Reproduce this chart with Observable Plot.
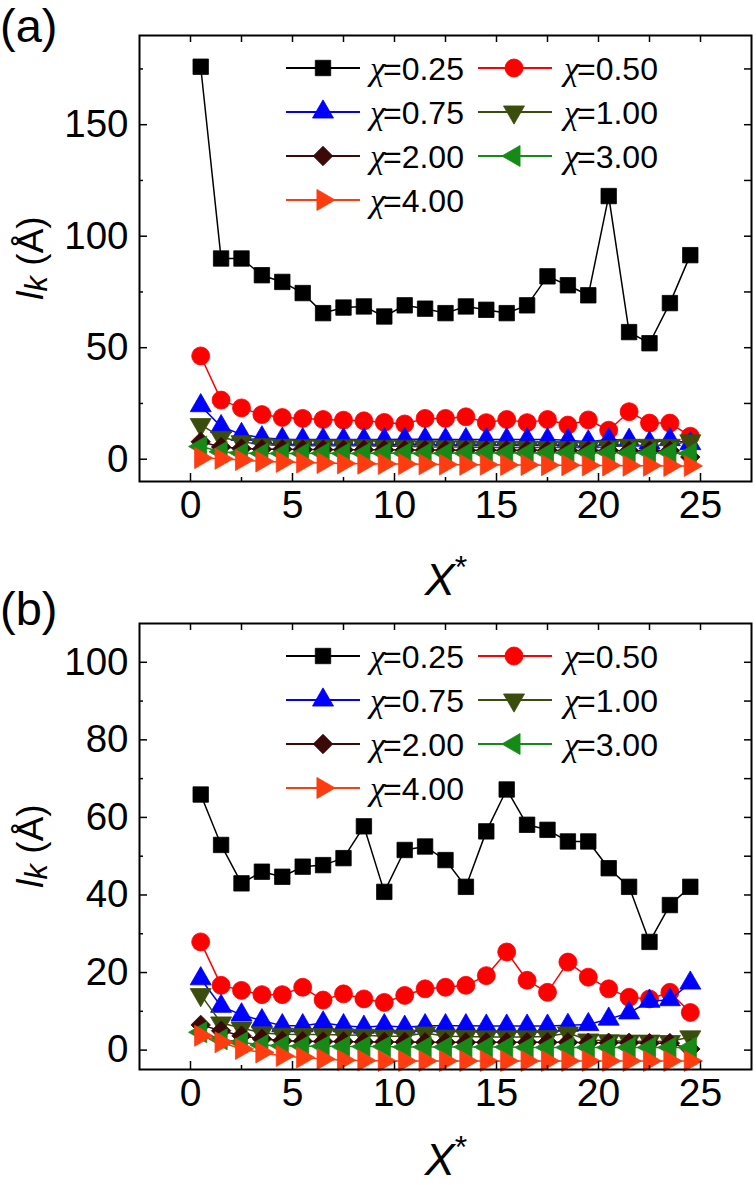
<!DOCTYPE html>
<html><head><meta charset="utf-8">
<script src="https://cdn.jsdelivr.net/npm/d3@7"></script>
<script src="https://cdn.jsdelivr.net/npm/@observablehq/plot@0.6"></script>
<style>
body{margin:0;background:#fff;width:756px;height:1185px;position:relative;overflow:hidden;font-family:"Liberation Sans",Arial,sans-serif;color:#000;}
.panel{position:absolute;left:0;}
.plabel{position:absolute;left:0;font-size:47px;line-height:47px;white-space:nowrap;}
.ylab{position:absolute;left:33px;font-size:37px;line-height:37px;white-space:nowrap;transform:translate(-50%,-50%) rotate(-90deg);}
.xlab{position:absolute;left:446px;font-size:45px;line-height:38px;white-space:nowrap;transform:translateX(-50%);}
</style></head><body>
<div id="pa" class="panel" style="top:0"></div>
<div id="pb" class="panel" style="top:588px"></div>
<div class="plabel" style="top:2px">(a)</div>
<div class="plabel" style="top:585px">(b)</div>
<div class="ylab" style="top:258px"><i>l</i><sub style="font-size:31px;vertical-align:-4px"><i>k</i></sub> (Å)</div>
<div class="ylab" style="top:846px"><i>l</i><sub style="font-size:31px;vertical-align:-4px"><i>k</i></sub> (Å)</div>
<div class="xlab" style="top:561px"><i>X</i><span style="font-size:32px;position:relative;top:-17px">*</span></div>
<div class="xlab" style="top:1141px"><i>X</i><span style="font-size:32px;position:relative;top:-17px">*</span></div>
<script>
// ---------- data ----------
const xStar = [0.5,1.5,2.5,3.5,4.5,5.5,6.5,7.5,8.5,9.5,10.5,11.5,12.5,13.5,14.5,15.5,16.5,17.5,18.5,19.5,20.5,21.5,22.5,23.5,24.5];
const chiLabels = ["0.25","0.50","0.75","1.00","2.00","3.00","4.00"];
const colors = ["#000000","#ff0000","#0000ff","#3b4d0c","#3c0909","#168a16","#ff3c0f"];
const symbols = ["square","circle","triangle","triangle","diamond2","triangle","triangle"];
const rotations = [0,0,0,180,0,-90,90];
const radii = [8.7,9,7.8,7.8,8.8,7.8,7.8];

// panel (a)
const a025 = [176,90,90,82.5,79.5,74.5,65.5,68,68.5,64,69,67.5,65.5,68.5,67,65.5,69,82,78,73.5,118,57,52,70,91.5];
const a050 = [46.3,26.5,23,20,18.7,18.3,17.8,17.5,17.2,16.5,15.8,18.3,18.3,19,16.4,17.8,16.4,17.8,15.3,17.6,13,21.3,16.2,16.2,10.3];
const a075 = [24,14.6,11.1,9.6,9,8.8,8.8,8.8,8.8,8.8,9,9,8.8,8.8,8.8,8.8,8.8,8.8,8.5,7.8,8.8,8.5,7.3,8.8,7];
const a100 = [15.5,9.8,7.8,6.5,6.2,6,6,6,6,5.8,5.8,5.5,5.5,5.5,5.3,5.3,5.3,5.2,5.2,5.2,5.5,6.2,6.2,6.2,8.2];
const a200 = [7.8,5.5,4.8,4.5,4.5,4.3,4.3,4.2,4.2,4.2,4.1,4.1,4.1,4,4,4,4,4,3.9,3.9,3.9,3.8,3.8,3.8,1];
const a300 = [5.7,3.3,2.8,2.6,2.6,2.6,2.7,2.6,2.6,2.7,2.7,2.6,2.7,2.7,2.8,2.8,2.8,2.8,2.9,2.9,2.9,2.9,2.9,2.9,2.6];
const a400 = [0.5,0.2,-0.4,-1,-1.2,-1.5,-1.7,-1.9,-2,-2.1,-2.2,-2.3,-2.4,-2.5,-2.5,-2.6,-2.6,-2.7,-2.7,-2.8,-2.8,-2.9,-2.9,-3,-3];

// panel (b)
const b025 = [65.9,52.9,43,46,44.7,47.3,47.7,49.5,57.7,40.8,51.6,52.5,49,42.1,56.4,67.2,58.1,56.8,53.8,53.8,46.9,42.1,27.9,37.4,42.1];
const b050 = [27.9,16.7,15.4,14.3,14.3,16.2,12.9,14.5,13.2,12.3,14.1,15.8,16.2,16.7,19.2,25.3,18,14.9,22.7,18.8,15.8,13.6,13.2,14.9,9.7];
const b075 = [18.4,11.3,9.1,7.6,6.3,6.3,7,6.3,5.9,6.3,5.9,6.3,6.3,6.3,6.2,6.2,6.2,6.2,6.4,6.6,8,9.6,12.6,13,17.3];
const b100 = [14.3,7,5.7,4.4,4.1,4,4,3.9,3.8,3.6,3.6,4.4,3.6,3.5,3.4,3.4,3.4,3.5,4.4,2.6,2.4,2.3,2.3,2.2,3.4];
const b200 = [6.5,5,3.7,2.9,2.4,2.3,2.2,2.2,2.1,2.1,2.1,2,2,2,2,2,2,2,2,1.9,1.9,1.9,1.8,1.8,0.3];
const b300 = [4.6,2.8,2,1.3,1.1,1,1,0.9,0.9,0.9,0.8,0.8,0.8,0.8,0.8,0.8,0.7,0.7,0.7,0.7,0.7,0.7,0.7,0.7,0.7];
const b400 = [3.7,2,0.3,-0.6,-1.5,-1.9,-2.3,-2.6,-2.7,-2.8,-2.8,-2.8,-2.8,-2.8,-2.8,-2.8,-2.8,-2.8,-2.8,-2.8,-2.8,-2.8,-2.8,-2.8,-2.8];

const xDomain = [-2.5, 27.5];
const xMajor = [0,5,10,15,20,25];
const xMinor = [2.5,7.5,12.5,17.5,22.5];
const aYDomain = [-10, 190];
const aYMajor = [0,50,100,150];
const aYMinor = [25,75,125,175];
const bYDomain = [-5, 110];
const bYMajor = [0,20,40,60,80,100];
const bYMinor = [10,30,50,70,90];

// ---------- layout ----------
const W = 756, ML = 139, MR = 5, MT = 35, FH = 446, FW = W - ML - MR;
const FONT = "'Liberation Sans', Arial, sans-serif";

function makePanel(seriesArrays, yDomain, yMajor, yMinor, height) {
  const marks = [];
  seriesArrays.forEach((arr, i) => {
    const data = xStar.map((x, j) => ({x, y: arr[j]}));
    marks.push(Plot.line(data, {x: "x", y: "y", stroke: colors[i], strokeWidth: 1.5}));
    marks.push(Plot.dot(data, {x: "x", y: "y", symbol: symbols[i], r: radii[i], fill: colors[i],
      stroke: colors[i], strokeWidth: 0.8, rotate: rotations[i]}));
  });
  const yAll = [...yMajor, ...yMinor];
  const xAll = [...xMajor, ...xMinor];
  marks.push(
    Plot.ruleX(xMajor, {x: d => d, insetTop: FH - 8, stroke: "#000", strokeWidth: 1.5}),
    Plot.ruleX(xMinor, {x: d => d, insetTop: FH - 4, stroke: "#000", strokeWidth: 1.5}),
    Plot.ruleX(xAll, {x: d => d, insetBottom: FH - 7, stroke: "#000", strokeWidth: 1.5}),
    Plot.ruleY(yMajor, {y: d => d, insetRight: FW - 8, stroke: "#000", strokeWidth: 1.5}),
    Plot.ruleY(yMinor, {y: d => d, insetRight: FW - 4, stroke: "#000", strokeWidth: 1.5}),
    Plot.ruleY(yAll, {y: d => d, insetLeft: FW - 7, stroke: "#000", strokeWidth: 1.5}),
    Plot.axisX({ticks: xMajor, tickSize: 0, tickPadding: 9, fontSize: 39, label: null, fill: "#000"}),
    Plot.axisY({ticks: yMajor, tickSize: 0, tickPadding: 11, fontSize: 38.5, label: null, fill: "#000"}),
    Plot.frame({stroke: "#000", strokeWidth: 2})
  );
  const svg = Plot.plot({
    width: W, height,
    marginLeft: ML, marginRight: MR, marginTop: MT, marginBottom: height - MT - FH,
    x: {domain: xDomain},
    y: {domain: yDomain},
    style: {fontFamily: FONT, background: "white", overflow: "visible", color: "#000"},
    marks
  });
  addLegend(svg);
  return svg;
}

function symbolType(name) {
  return {square: d3.symbolSquare, circle: d3.symbolCircle, triangle: d3.symbolTriangle, diamond2: d3.symbolDiamond2}[name];
}

function addLegend(svg) {
  const g = d3.select(svg).append("g").attr("text-anchor", "start");
  const rowOff = [33, 77, 121, 165];
  chiLabels.forEach((lab, i) => {
    const col = i % 2, row = Math.floor(i / 2);
    const cy = MT + rowOff[row];
    const x1 = col ? 478 : 286, x2 = col ? 552 : 360, xm = col ? 514 : 323, xt = col ? 564 : 370;
    g.append("line").attr("x1", x1).attr("x2", x2).attr("y1", cy).attr("y2", cy)
      .attr("stroke", colors[i]).attr("stroke-width", 2);
    g.append("path")
      .attr("d", d3.symbol(symbolType(symbols[i]), radii[i] * radii[i] * Math.PI)())
      .attr("transform", `translate(${xm},${cy}) rotate(${rotations[i]})`)
      .attr("fill", colors[i]).attr("stroke", colors[i]).attr("stroke-width", 0.8);
    const t = g.append("text").attr("x", xt).attr("y", cy).attr("dy", "0.36em")
      .attr("text-anchor", "start")
      .attr("font-size", 32).attr("fill", "#000").attr("font-family", FONT);
    t.append("tspan").attr("font-family", "'Liberation Serif', serif").attr("font-style", "italic")
      .attr("font-size", 34).text("χ");
    t.append("tspan").attr("dx", -2).text("=" + lab);
  });
}

document.getElementById("pa").appendChild(makePanel([a025,a050,a075,a100,a200,a300,a400], aYDomain, aYMajor, aYMinor, 588));
document.getElementById("pb").appendChild(makePanel([b025,b050,b075,b100,b200,b300,b400], bYDomain, bYMajor, bYMinor, 597));
</script>
</body></html>
